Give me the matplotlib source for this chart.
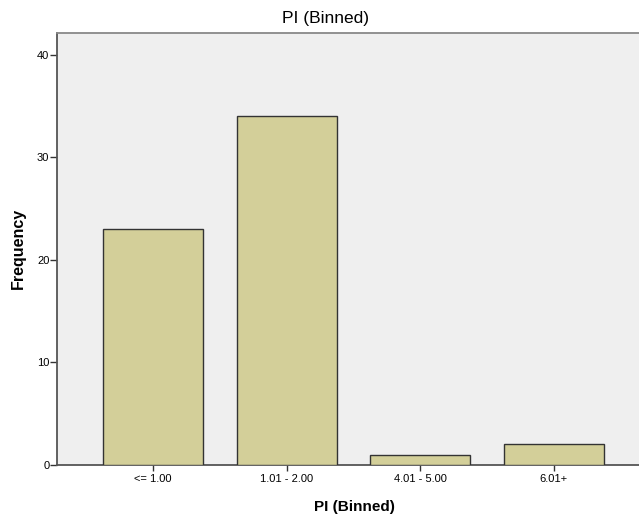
import matplotlib
matplotlib.use("Agg")
import matplotlib.pyplot as plt

categories = ["<= 1.00", "1.01 - 2.00", "4.01 - 5.00", "6.01+"]
frequencies = [23, 34, 1, 2]
y_ticks = [0, 10, 20, 30, 40]

plt.rcParams['font.family'] = ['Liberation Sans', 'DejaVu Sans']

W, H = 639, 517
fig = plt.figure(figsize=(W/100, H/100), dpi=100)
ax = fig.add_axes([57/W, 52/H, 1 - 57/W, (465-33)/H])
ax.set_facecolor('#EFEFEF')
x = list(range(len(categories)))
ax.bar(x, frequencies, width=0.75, color='#D3CF99', edgecolor='#333333', linewidth=1.0, zorder=3)
ax.set_xlim(-0.72, 3.64)
ax.set_ylim(0, 42.1)
ax.set_xticks(x)
ax.set_xticklabels(categories, fontsize=8)
ax.set_yticks(y_ticks)
ax.set_yticklabels([str(t) for t in y_ticks], fontsize=8)
ax.tick_params(axis='x', direction='out', length=4.5, width=1, color='#333333', pad=2)
ax.tick_params(axis='y', direction='out', length=5, width=1, color='#333333', pad=0.5)
for s in ['left', 'bottom']:
    ax.spines[s].set_color('#555555')
    ax.spines[s].set_linewidth(1.3)
ax.spines['top'].set_color('#888888')
ax.spines['top'].set_linewidth(1.3)
ax.spines['right'].set_visible(False)

fig.text(326/W, 1 - 18/H, "PI (Binned)", fontsize=12.5, ha='center', va='center')
fig.text(354/W, 1 - 507/H, "PI (Binned)", fontsize=11, fontweight='bold', ha='center', va='center')
fig.text(18/W, 1 - 248/H, "Frequency", fontsize=11.5, fontweight='bold', ha='center', va='center', rotation=90)
fig.savefig("out.png", dpi=100)
